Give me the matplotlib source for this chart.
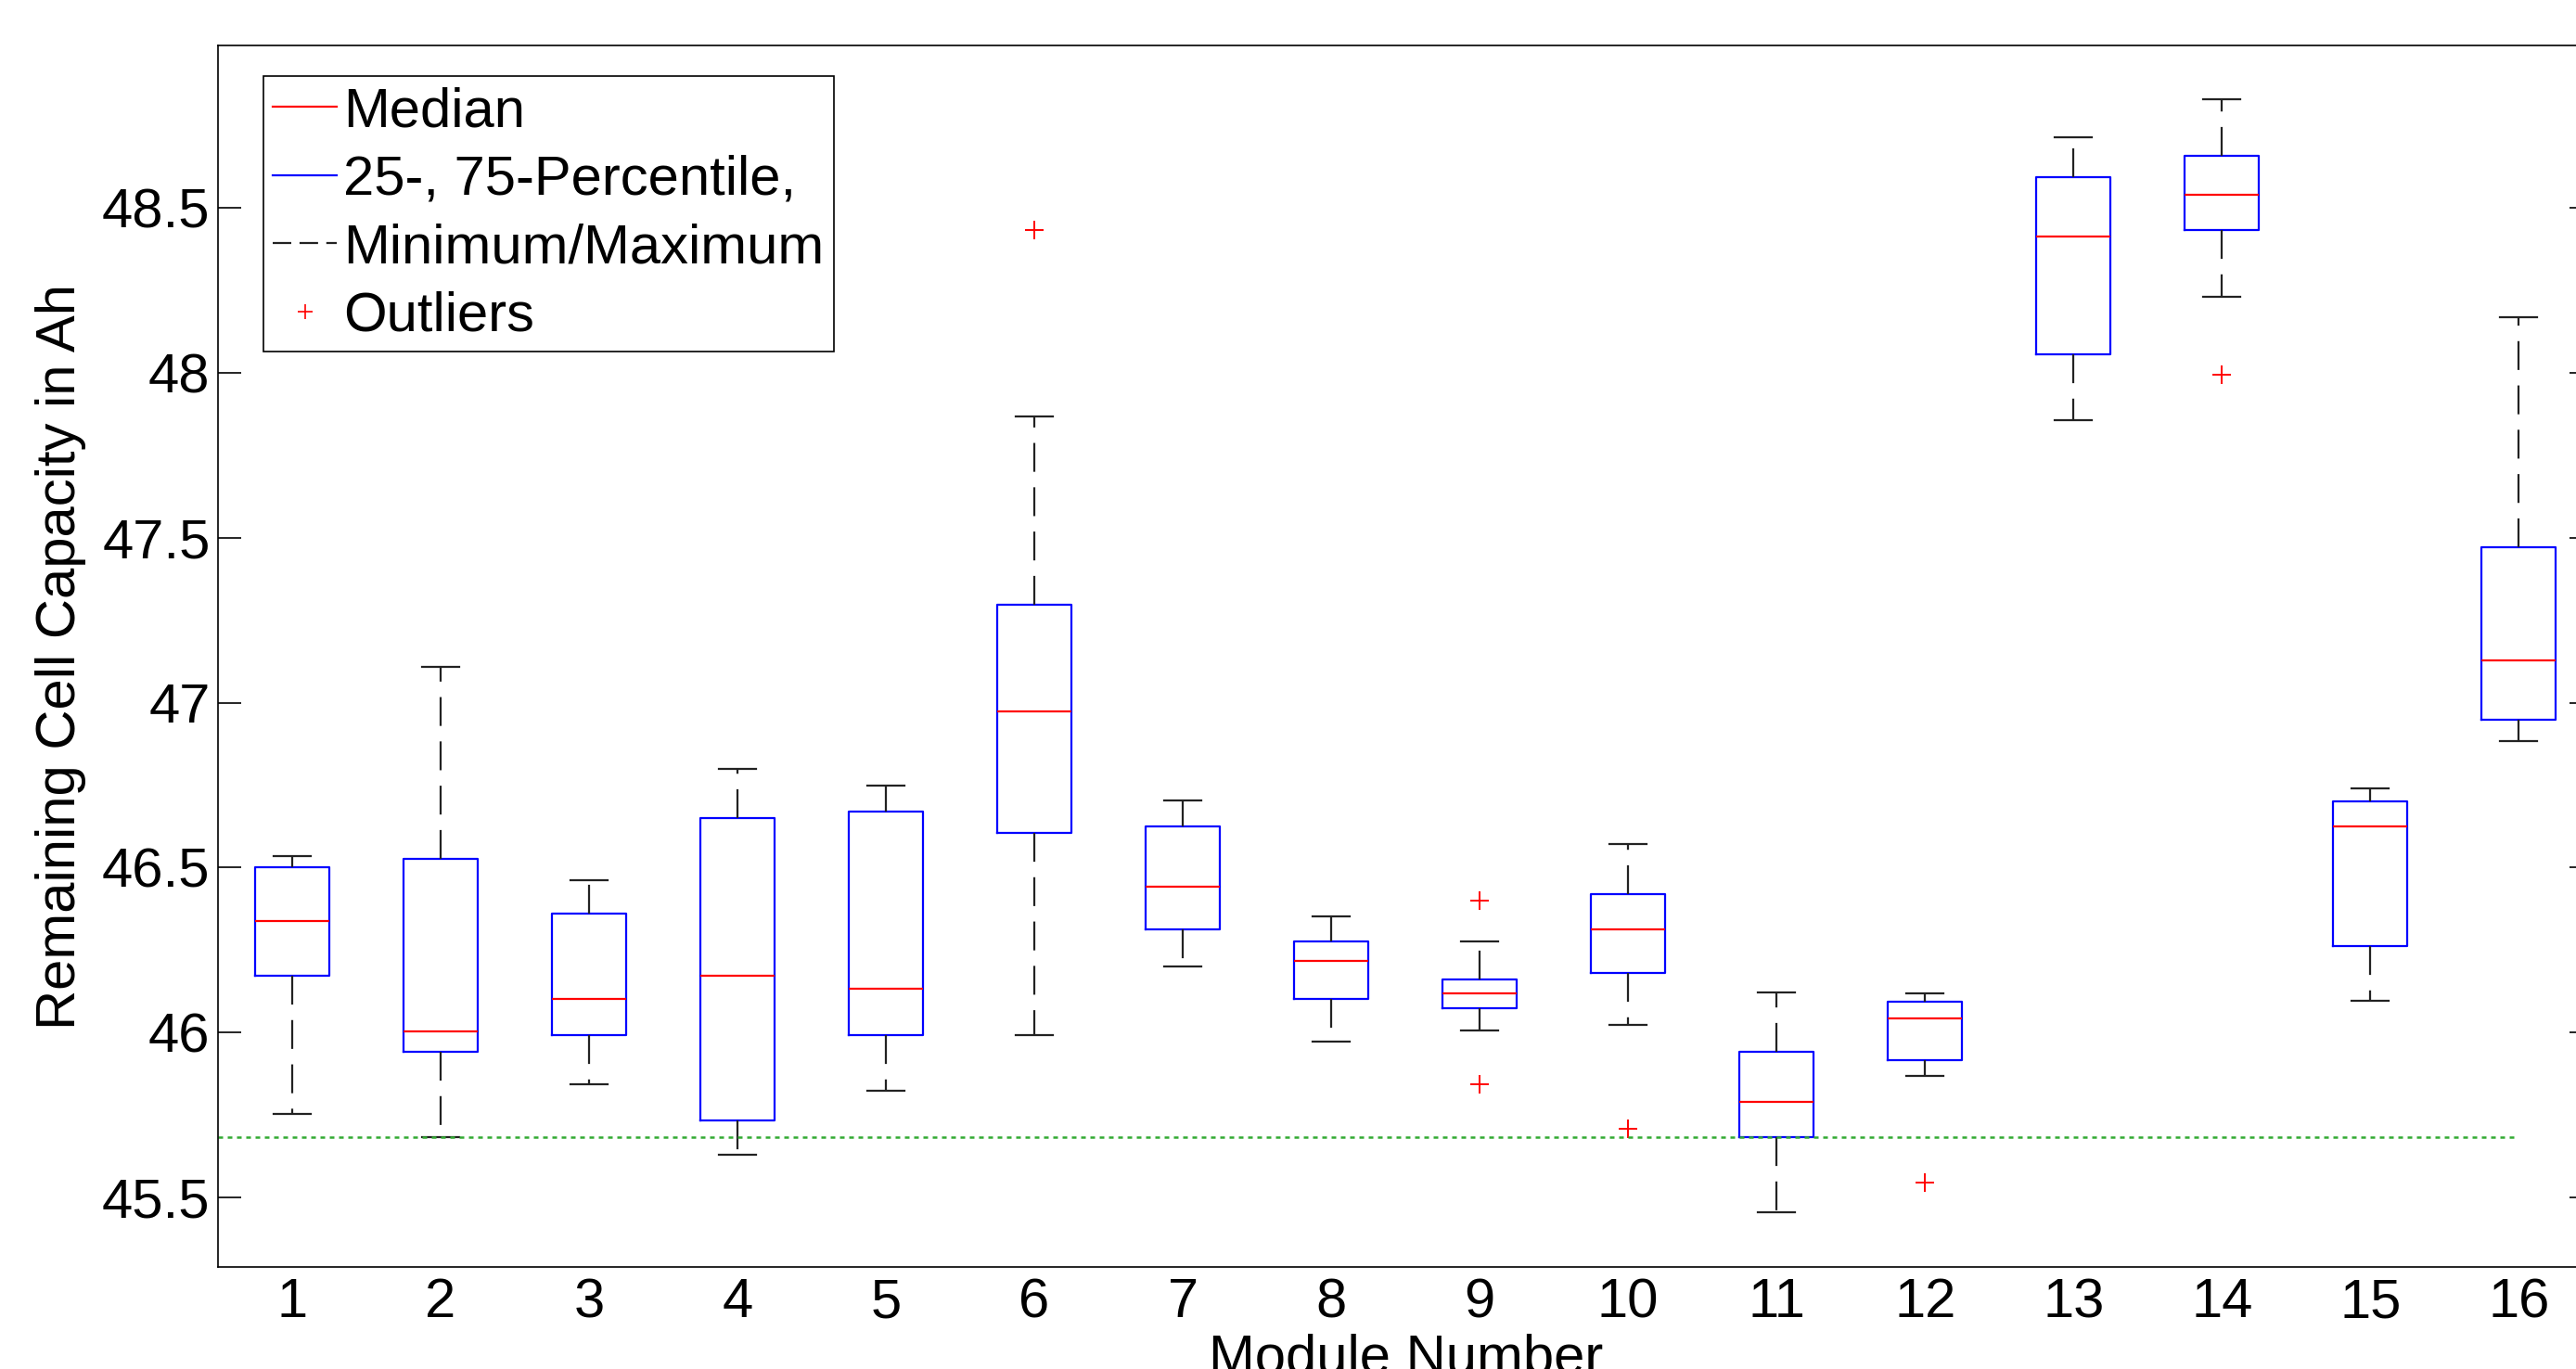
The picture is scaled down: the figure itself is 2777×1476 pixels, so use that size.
import matplotlib
matplotlib.use("Agg")
import matplotlib.pyplot as plt
from matplotlib.lines import Line2D
from matplotlib.ticker import FormatStrFormatter

plt.rcParams['font.family'] = ['Liberation Sans', 'DejaVu Sans']

# values (Ah), one entry per module 1..16
modules = list(range(1, 17))
whis_hi = [46.536, 47.108, 46.461, 46.80, 46.75, 47.866, 46.705, 46.352,
           46.277, 46.571, 46.123, 46.118, 48.712, 48.827, 46.74, 48.169]
q3 = [46.50, 46.526, 46.362, 46.65, 46.67, 47.298, 46.625, 46.277,
      46.162, 46.421, 45.943, 46.093, 48.593, 48.657, 46.70, 47.472]
medians = [46.337, 46.003, 46.103, 46.172, 46.132, 46.974, 46.441, 46.217,
           46.118, 46.312, 45.789, 46.043, 48.413, 48.538, 46.625, 47.128]
q1 = [46.172, 45.943, 45.993, 45.734, 45.993, 46.606, 46.312, 46.103,
      46.073, 46.182, 45.684, 45.918, 48.055, 48.433, 46.262, 46.949]
whis_lo = [45.754, 45.684, 45.844, 45.63, 45.824, 45.993, 46.202, 45.973,
           46.008, 46.023, 45.455, 45.869, 47.856, 48.229, 46.098, 46.884]
outliers = [[], [], [], [], [], [48.433], [], [], [46.401, 45.844], [45.709],
            [], [45.545], [], [47.995], [], []]
threshold = 45.684

stats = []
for i in range(len(modules)):
    stats.append({'med': medians[i], 'q1': q1[i], 'q3': q3[i],
                  'whislo': whis_lo[i], 'whishi': whis_hi[i],
                  'fliers': outliers[i]})

dash = (0, (14, 7.5))

fig = plt.figure(figsize=(27.77, 14.76), dpi=100)
ax = fig.add_axes([0.0846, 0.0745, 0.922, 0.892])

bp = ax.bxp(stats, positions=modules, widths=0.5, capwidths=0.25,
            showfliers=True,
            boxprops=dict(color='blue', linewidth=1.6),
            medianprops=dict(color='red', linewidth=1.6),
            whiskerprops=dict(color='#222222', linewidth=1.6, linestyle=dash),
            capprops=dict(color='#222222', linewidth=1.6),
            flierprops=dict(marker='+', markeredgecolor='red', markersize=14,
                            markeredgewidth=1.4, linestyle='none'))

ax.hlines(threshold, 0.5, 16, colors='#33aa33', linewidth=1.8, linestyles=(0, (2, 2)))

ax.set_xlim(0.5, 16.5)
ax.set_ylim(45.29, 48.99)
ax.set_yticks([45.5, 46, 46.5, 47, 47.5, 48, 48.5])
ax.yaxis.set_major_formatter(FormatStrFormatter('%g'))
ax.set_xticks(modules)
ax.set_xticklabels([str(m) for m in modules])

ax.tick_params(axis='y', direction='in', length=18, width=1.2, right=True,
               labelsize=43, pad=6)
ax.tick_params(axis='x', length=0, labelsize=43, pad=8)
for s in ax.spines.values():
    s.set_linewidth(1.2)

ax.set_ylabel('Remaining Cell Capacity in Ah', fontsize=43, labelpad=12)
ax.set_xlabel('Module Number', fontsize=43, labelpad=4)

handles = [
    Line2D([], [], color='red', linewidth=1.6),
    Line2D([], [], color='blue', linewidth=1.6),
    Line2D([], [], color='#222222', linewidth=1.6, linestyle=(0, (9, 4))),
    Line2D([], [], color='red', marker='+', linestyle='none', markersize=11,
           markeredgewidth=1.2),
]
labels = ['Median', '25-, 75-Percentile,', 'Minimum/Maximum', 'Outliers']
leg = ax.legend(handles, labels, loc='upper left', bbox_to_anchor=(0.019, 0.975),
                fontsize=43, frameon=True, fancybox=False, edgecolor='black',
                framealpha=1, borderpad=0.18, labelspacing=0.31,
                handlelength=1.15, handletextpad=0.12, borderaxespad=0)
leg.get_frame().set_linewidth(1.2)

fig.savefig('out.png', dpi=100)
